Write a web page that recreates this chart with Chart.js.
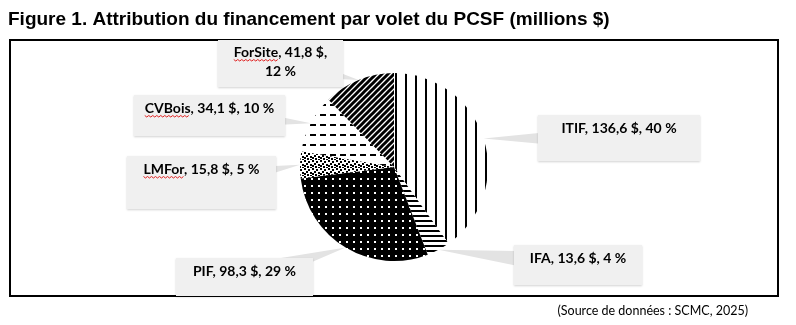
<!DOCTYPE html>
<html>
<head>
<meta charset="utf-8">
<script src="https://cdn.jsdelivr.net/npm/chart.js@4/dist/chart.umd.min.js"></script>
<style>
  html, body { margin: 0; padding: 0; background: #fff; }
  #wrap { width: 796px; height: 325px; }
</style>
</head>
<body>
<div id="wrap"><canvas id="pie" width="796" height="325"></canvas></div>
<script>
// data (millions $), clockwise from 12 o'clock
const volets = ['ITIF', 'IFA', 'PIF', 'LMFor', 'CVBois', 'ForSite'];
const montants = [136.6, 13.6, 98.3, 15.8, 34.1, 41.8];
const pourcents = [40, 4, 29, 5, 10, 12];

// label boxes: [x, y, w, h]
const boites = [
  [538, 115, 162, 46],
  [514, 245, 128, 40],
  [176, 258, 137, 38],
  [127, 156, 149, 53],
  [134, 95, 151, 41],
  [218, 40, 125, 47]
];

const fmt = v => v.toFixed(1).replace('.', ',');

// fill patterns
function tile(w, h, draw) {
  const c = document.createElement('canvas');
  c.width = w; c.height = h;
  const g = c.getContext('2d');
  draw(g);
  return document.createElement('canvas').getContext('2d').createPattern(c, 'repeat');
}
const patterns = [
  tile(10, 10, g => { g.fillStyle = '#fff'; g.fillRect(0, 0, 10, 10); g.fillStyle = '#000'; g.fillRect(5, 0, 2, 10); }),
  tile(5, 5, g => { g.fillStyle = '#fff'; g.fillRect(0, 0, 5, 5); g.fillStyle = '#000'; g.fillRect(0, 0, 5, 2); }),
  tile(7, 7, g => { g.fillStyle = '#000'; g.fillRect(0, 0, 7, 7); g.fillStyle = '#fff'; g.fillRect(3, 3, 2, 2); }),
  tile(8, 8, g => {
    g.fillStyle = '#fff'; g.fillRect(0, 0, 8, 8); g.fillStyle = '#000';
    [[0,0],[4,1],[2,3],[6,4],[0,5],[3,6],[6,7]].forEach(p => g.fillRect(p[0], p[1], 2, 2));
  }),
  tile(10, 10, g => { g.fillStyle = '#fff'; g.fillRect(0, 0, 10, 10); g.fillStyle = '#000'; g.fillRect(0, 4, 6, 2); }),
  tile(6, 6, g => {
    g.fillStyle = '#fff'; g.fillRect(0, 0, 6, 6);
    g.strokeStyle = '#000'; g.lineWidth = 3;
    g.beginPath();
    g.moveTo(-1, 7); g.lineTo(7, -1);
    g.moveTo(-4, 4); g.lineTo(4, -4);
    g.moveTo(2, 10); g.lineTo(10, 2);
    g.stroke();
  })
];

const decor = {
  id: 'decor',
  beforeDraw(chart) {
    const ctx = chart.ctx;
    ctx.save();
    ctx.fillStyle = '#000';
    ctx.font = 'bold 19px "Liberation Sans", Arial, sans-serif';
    ctx.textBaseline = 'alphabetic';
    ctx.fillText('Figure 1. Attribution du financement par volet du PCSF (millions $)', 8, 25);
    ctx.lineWidth = 2;
    ctx.strokeStyle = '#000';
    ctx.strokeRect(10, 40, 768, 256);
    // pointers
    const meta = chart.getDatasetMeta(0);
    ctx.fillStyle = '#e3e3e3';
    meta.data.forEach((arc, i) => {
      const a = (arc.startAngle + arc.endAngle) / 2;
      const tx = arc.x + Math.cos(a) * arc.outerRadius;
      const ty = arc.y + Math.sin(a) * arc.outerRadius;
      const b = boites[i];
      const cx = b[0] + b[2] / 2, cy = b[1] + b[3] / 2;
      const dx = cx - tx, dy = cy - ty, L = Math.hypot(dx, dy);
      const nx = -dy / L * 13, ny = dx / L * 13;
      ctx.beginPath();
      ctx.moveTo(tx, ty);
      ctx.lineTo(cx + nx, cy + ny);
      ctx.lineTo(cx - nx, cy - ny);
      ctx.closePath();
      ctx.fill();
    });
    ctx.restore();
  },
  afterDraw(chart) {
    const ctx = chart.ctx;
    ctx.save();
    ctx.font = 'bold 14px Lato, "Open Sans", sans-serif';
    ctx.textAlign = 'center';
    ctx.textBaseline = 'middle';
    boites.forEach((b, i) => {
      ctx.shadowColor = 'rgba(0,0,0,0.18)';
      ctx.shadowBlur = 2;
      ctx.shadowOffsetY = 1;
      ctx.fillStyle = '#f0f0f0';
      ctx.fillRect(b[0], b[1], b[2], b[3]);
      ctx.shadowColor = 'transparent';
      ctx.fillStyle = '#000';
      const cx = b[0] + b[2] / 2;
      let lines;
      if (volets[i] === 'ForSite') {
        lines = [volets[i] + ', ' + fmt(montants[i]) + ' $,', pourcents[i] + ' %'];
      } else {
        lines = [volets[i] + ', ' + fmt(montants[i]) + ' $, ' + pourcents[i] + ' %'];
      }
      const y0 = b[1] + (lines.length > 1 ? 12 : 13);
      lines.forEach((t, k) => ctx.fillText(t, cx, y0 + k * 19));
      // spell-check squiggle under the name
      if (['ForSite', 'CVBois', 'LMFor'].includes(volets[i])) {
        const full = ctx.measureText(lines[0]).width;
        const w = ctx.measureText(volets[i]).width;
        const x0 = cx - full / 2;
        const yy = y0 + 8;
        ctx.strokeStyle = '#e02020';
        ctx.lineWidth = 1;
        ctx.beginPath();
        for (let x = 0; x <= w; x += 2) {
          const y = yy + ((x / 2) % 2 ? 1 : -0.5);
          x === 0 ? ctx.moveTo(x0 + x, y) : ctx.lineTo(x0 + x, y);
        }
        ctx.stroke();
      }
    });
    ctx.font = '12.5px Lato, "Open Sans", sans-serif';
    ctx.textAlign = 'right';
    ctx.textBaseline = 'alphabetic';
    ctx.fillStyle = '#000';
    ctx.fillText('(Source de données : SCMC, 2025)', 748, 315);
    ctx.restore();
  }
};

new Chart(document.getElementById('pie'), {
  type: 'pie',
  data: {
    labels: volets,
    datasets: [{
      data: montants,
      backgroundColor: patterns,
      borderWidth: 0
    }]
  },
  options: {
    responsive: false,
    animation: false,
    layout: { padding: { left: 300, right: 308, top: 73, bottom: 64 } },
    plugins: {
      legend: { display: false },
      tooltip: { enabled: false }
    }
  },
  plugins: [decor]
});
</script>
</body>
</html>
